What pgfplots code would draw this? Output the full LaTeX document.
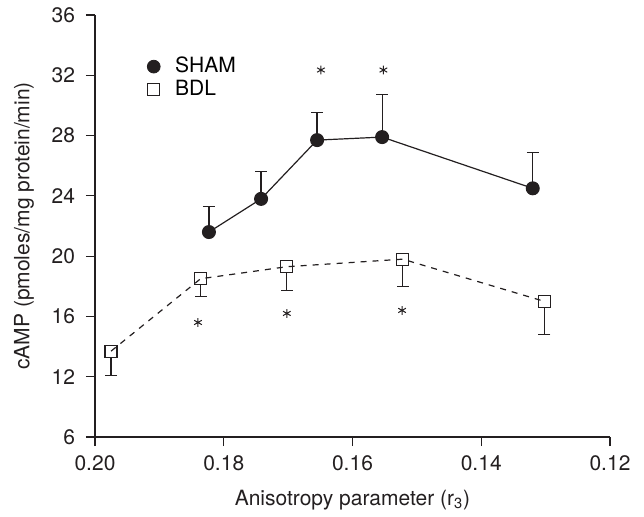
\documentclass[border=0pt]{standalone}
\usepackage{fontspec}
\setmainfont{TeX Gyre Heros}
\usepackage{pgfplots}
\pgfplotsset{compat=1.18}
\definecolor{ink}{HTML}{231F20}
\begin{document}
\begin{tikzpicture}[font=\fontsize{10.5}{12.5}\selectfont]
\begin{axis}[
  scale only axis,
  width=257.5pt, height=211pt,
  x dir=reverse,
  xmin=0.12, xmax=0.20,
  ymin=8, ymax=36,
  axis lines*=left,
  axis line style={ink, line width=0.6pt},
  xtick={0.20,0.18,0.16,0.14,0.12},
  xticklabels={0.20,0.18,0.16,0.14,0.12},
  ytick={8,12,16,20,24,28,32,36},
  yticklabels={6,12,16,20,24,28,32,36},
  tick align=outside,
  major tick length=4.5pt,
  tick style={ink, line width=0.6pt},
  /pgf/number format/assume math mode=true,
  tick label style={font=\fontsize{10.5}{12.5}\selectfont, text=ink},
  xticklabel style={yshift=-1.5pt},
  yticklabel style={xshift=-2pt},
  xlabel={Anisotropy parameter (r\textsubscript{3})},
  ylabel={cAMP (pmoles/mg protein/min)},
  label style={font=\fontsize{10.5}{12.5}\selectfont, text=ink},
  xlabel style={yshift=-2.5pt},
  ylabel style={yshift=2pt},
  clip=false,
  legend style={at={(rel axis cs:0.097,0.915)}, anchor=north west, draw=none, fill=none,
    font=\fontsize{10.5}{12.5}\selectfont, row sep=-2pt, inner sep=1pt,
    /tikz/every odd column/.append style={column sep=5.5pt},
    legend cell align=left},
]
% legend entries
\addlegendimage{only marks, mark=*, mark size=3.2pt, ink}
\addlegendentry{SHAM}
\addlegendimage{only marks, mark=square, mark size=3pt, ink, line width=0.6pt}
\addlegendentry{BDL}

% SHAM: mean with upward SEM
\addplot[ink, line width=0.6pt, mark=*, mark size=3.2pt,
  error bars/.cd, y dir=plus, y explicit,
  error mark options={rotate=90, mark size=3pt, line width=0.5pt},
  error bar style={line width=0.6pt}]
  coordinates {
  (0.1823,21.6) +- (0,1.7)
  (0.1742,23.8) +- (0,1.8)
  (0.1655,27.7) +- (0,1.8)
  (0.1554,27.9) +- (0,2.8)
  (0.1320,24.5) +- (0,2.35)
  };

% BDL: mean with downward SEM
\addplot[ink, line width=0.6pt, dashed, mark=square, mark size=3pt,
  mark options={solid},
  error bars/.cd, y dir=minus, y explicit,
  error mark options={rotate=90, mark size=3pt, line width=0.5pt, solid},
  error bar style={line width=0.6pt, solid, shorten <=3pt}]
  coordinates {
  (0.1975,13.7) +- (0,1.6)
  (0.1836,18.5) +- (0,1.2)
  (0.1702,19.3) +- (0,1.6)
  (0.1522,19.8) +- (0,1.8)
  (0.1302,17.0) +- (0,2.2)
  };

% significance markers
\addplot[only marks, mark=asterisk, mark size=2.2pt, ink, line width=0.5pt]
  coordinates {(0.1649,32.35) (0.1552,32.35)
               (0.1840,15.6) (0.1702,16.2) (0.1523,16.4)};

\coordinate (ll) at (axis cs:0.20,8);
\coordinate (ur) at (axis cs:0.12,36);
\end{axis}
\pgfresetboundingbox
\path ([xshift=-47.5pt,yshift=-39.5pt]ll) rectangle ([xshift=17pt,yshift=7.5pt]ur);
\end{tikzpicture}
\end{document}
